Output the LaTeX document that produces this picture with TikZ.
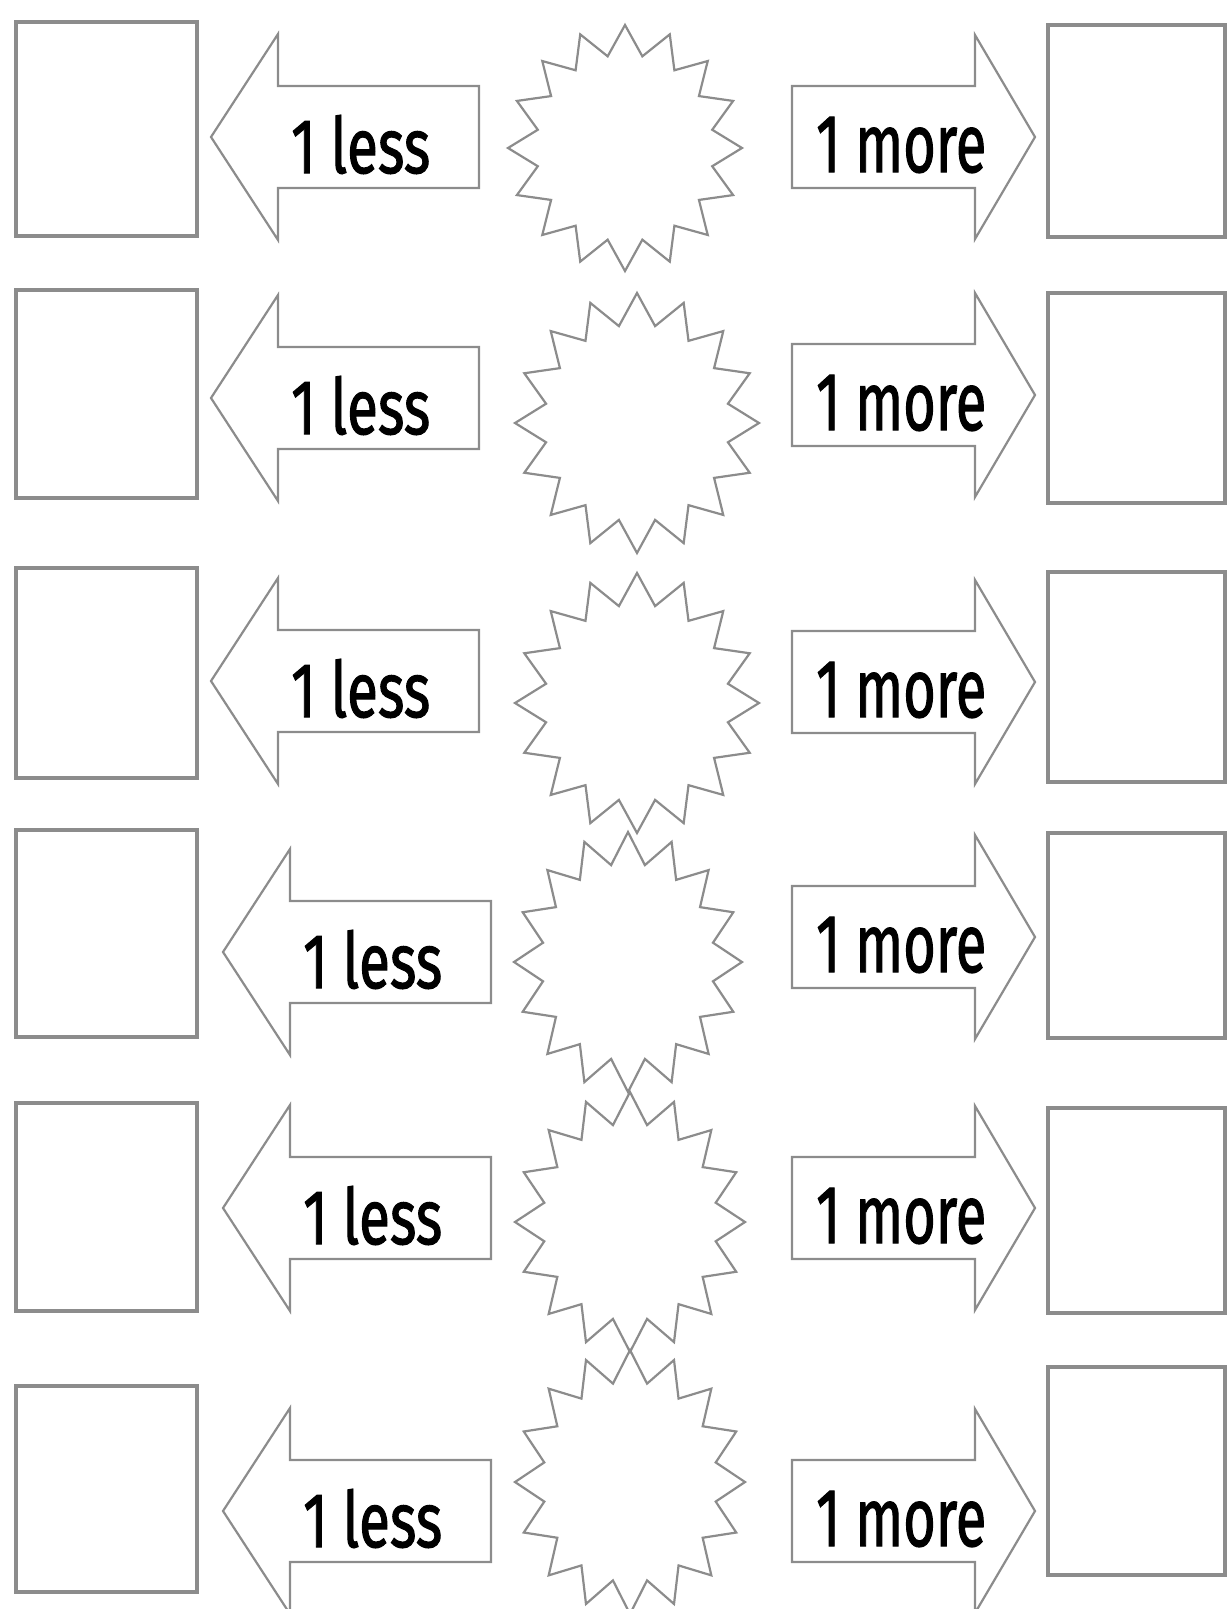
\documentclass[tikz,border=0pt]{standalone}
\usepackage{fontspec}
\setmainfont{Fira Sans}
\newfontfamily\labelfont{Fira Sans}[FakeBold=1.6]
\usetikzlibrary{positioning}
\definecolor{linegray}{gray}{0.55}
\newcommand{\lesslabel}{\resizebox{139pt}{58pt}{\labelfont 1 less}}
\newcommand{\morelabel}{\resizebox{170pt}{55pt}{\labelfont 1 more}}
\tikzset{
    answerbox/.style={draw=linegray, line width=3.5pt, inner sep=0pt},
    arrowline/.style={draw=linegray, line width=2.2pt, line join=miter},
    burst/.style={draw=linegray, line width=2.2pt, line join=miter},
    arrowtext/.style={anchor=base west, inner sep=0pt, text=black}
}

\begin{document}
\begin{tikzpicture}[x=1pt, y=-1pt]
    \useasboundingbox (0,0) rectangle (1227,1609);
    % row / less arrow y, x / more arrow y / left box / right box / star centre and radii
    \foreach \n/\ly/\lx/\my/\lt/\lb/\rt/\rb/\sx/\sy/\srx/\sry in {
            1/137/211/137/22/236/25/237/625/148/117/123,
            2/398/211/395/290/498/293/503/637/423/122/130,
            3/681/211/682/568/778/572/782/637/703/122/130,
            4/952/223/937/830/1037/833/1038/628/962/114/130,
            5/1208/223/1208/1103/1311/1108/1313/630/1222/115/130,
            6/1511/223/1511/1386/1592/1367/1575/630/1482/115/132}{
        \node[answerbox, minimum width=181pt, minimum height=\lb-\lt] (lessbox\n) at (106.5, {(\lt+\lb)/2}) {};
        \node[answerbox, minimum width=177pt, minimum height=\rb-\rt] (morebox\n) at (1136.5, {(\rt+\rb)/2}) {};
        \coordinate (lesstip\n) at (\lx, \ly);
        \coordinate (moretip\n) at (1035, \my);
        \coordinate (star\n) at (\sx, \sy);
        \draw[arrowline] (lesstip\n) -- ++(67,-103) -- ++(0,52) -- ++(201,0) -- ++(0,102)
            -- ++(-201,0) -- ++(0,52) -- cycle;
        \draw[arrowline] (moretip\n) -- ++(-60,-102) -- ++(0,51) -- ++(-183,0) -- ++(0,102)
            -- ++(183,0) -- ++(0,51) -- cycle;
        \node[arrowtext] (lesstext\n) at ({\lx+80}, {\ly+36}) {\lesslabel};
        \node[arrowtext] (moretext\n) at (816, {\my+35}) {\morelabel};
        \draw[burst] plot[variable=\k, samples at={0,...,31}]
            ({\sx+\srx*ifthenelse(mod(\k,2)==0,1,0.76)*cos(90+11.25*\k)},
             {\sy-\sry*ifthenelse(mod(\k,2)==0,1,0.76)*sin(90+11.25*\k)}) -- cycle;
    }
\end{tikzpicture}
\end{document}
